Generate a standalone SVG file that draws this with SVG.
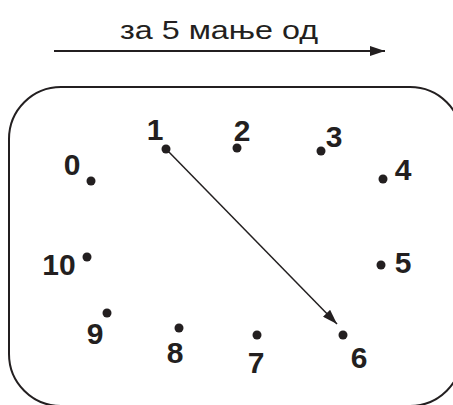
<svg xmlns="http://www.w3.org/2000/svg" width="453" height="405" viewBox="0 0 453 405">
<style>
.lbl{font-family:"Liberation Sans",Arial,sans-serif;font-weight:bold;font-size:30px;fill:#231f20;text-anchor:middle}
.dot{fill:#231f20}
.ttl{font-family:"Liberation Sans",Arial,sans-serif;font-size:26px;fill:#231f20;text-anchor:middle}
</style>
<defs>
<marker id="ah" markerWidth="16" markerHeight="10" refX="15" refY="5" orient="auto" markerUnits="userSpaceOnUse">
<path d="M0,0 L15,5 L0,10 Z" fill="#231f20"/>
</marker>
</defs>
<rect x="9" y="87" width="453" height="319" rx="52" ry="52" fill="none" stroke="#231f20" stroke-width="2"/>
<text class="ttl" x="219" y="39" textLength="198" lengthAdjust="spacingAndGlyphs">за 5 мање од</text>
<g id="connectors" stroke="#231f20" fill="none">
<line x1="54" y1="51" x2="385" y2="51" stroke-width="2" marker-end="url(#ah)"/>
<line x1="166" y1="149" x2="337" y2="324" stroke-width="1.5" marker-end="url(#ah)"/>
</g>
<g id="n0"><circle class="dot" cx="91" cy="181" r="4.5"/><text class="lbl" x="72" y="175">0</text></g>
<g id="n1"><circle class="dot" cx="166" cy="149" r="4.5"/><text class="lbl" x="155" y="140">1</text></g>
<g id="n2"><circle class="dot" cx="237" cy="148" r="4.5"/><text class="lbl" x="242" y="141">2</text></g>
<g id="n3"><circle class="dot" cx="321" cy="151" r="4.5"/><text class="lbl" x="334" y="147">3</text></g>
<g id="n4"><circle class="dot" cx="383" cy="179" r="4.5"/><text class="lbl" x="403" y="180">4</text></g>
<g id="n5"><circle class="dot" cx="381" cy="265" r="4.5"/><text class="lbl" x="403" y="273">5</text></g>
<g id="n6"><circle class="dot" cx="343" cy="335" r="4.5"/><text class="lbl" x="359" y="368">6</text></g>
<g id="n7"><circle class="dot" cx="257" cy="335" r="4.5"/><text class="lbl" x="256" y="373">7</text></g>
<g id="n8"><circle class="dot" cx="179" cy="328" r="4.5"/><text class="lbl" x="175" y="363">8</text></g>
<g id="n9"><circle class="dot" cx="107" cy="313" r="4.5"/><text class="lbl" x="95" y="344">9</text></g>
<g id="n10"><circle class="dot" cx="87" cy="257" r="4.5"/><text class="lbl" x="59" y="275">10</text></g>
</svg>
